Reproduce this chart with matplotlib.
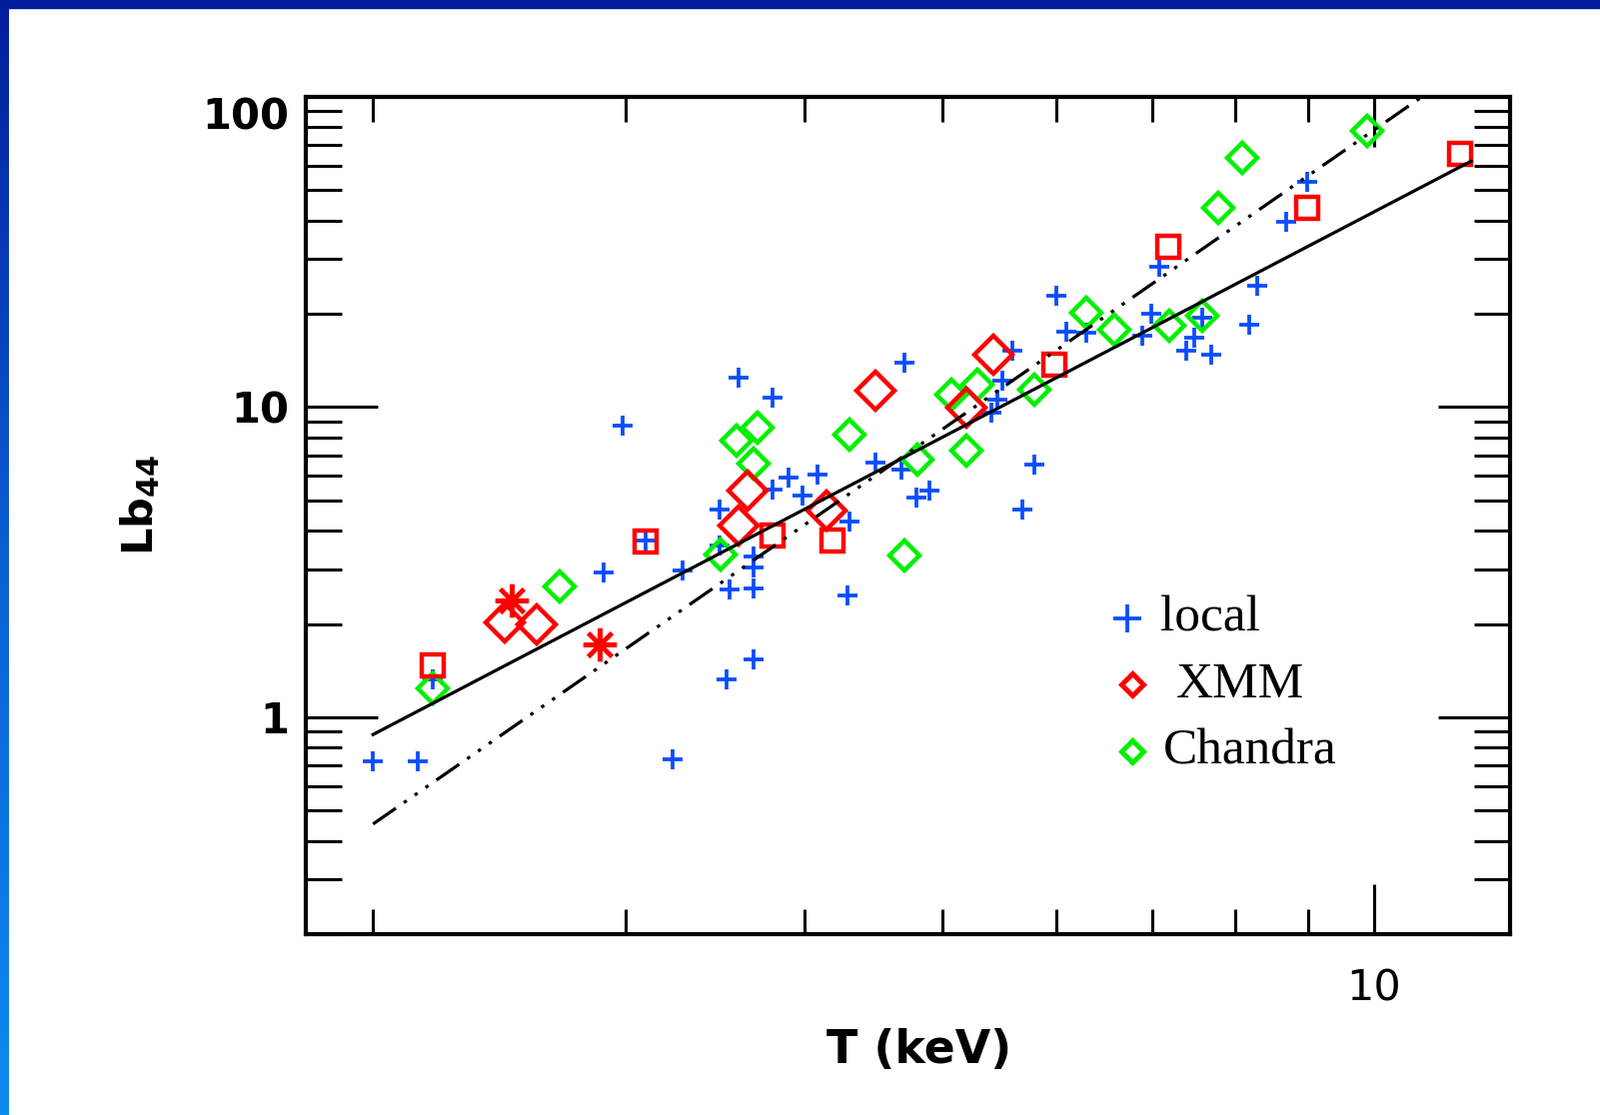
import numpy as np
import matplotlib
matplotlib.use('Agg')
import matplotlib.pyplot as plt
from matplotlib.ticker import FixedLocator, NullFormatter, FuncFormatter

# ---- data (T in keV, Lb44) ----
local_T = [2.00, 2.15, 2.20, 2.90, 2.99, 3.10, 3.24, 3.29, 3.49, 3.49,
           3.55, 3.60, 3.53, 3.69, 3.69, 3.69, 3.69, 3.80, 3.80, 3.90,
           3.99, 4.09, 4.30, 4.29, 4.49, 4.68, 4.70, 4.79, 4.89, 5.41,
           5.46, 5.50, 5.59, 5.68, 5.79, 6.00, 6.10, 6.30, 6.89, 6.99,
           7.08, 7.40, 7.49, 7.59, 7.70, 8.19, 8.29, 8.69, 8.98]
local_L = [0.72, 0.72, 1.33, 2.93, 8.72, 3.72, 0.73, 2.97, 4.68, 3.58,
           2.58, 12.4, 1.33, 3.30, 3.04, 2.60, 1.54, 10.7, 5.42, 5.93,
           5.19, 6.06, 4.28, 2.47, 6.63, 6.29, 13.9, 5.11, 5.38, 9.60,
           10.6, 12.2, 15.2, 4.68, 6.53, 22.9, 17.5, 17.4, 17.0, 20.0,
           28.3, 15.2, 16.7, 19.4, 14.8, 18.4, 24.6, 39.6, 53.2]

xmm_sq_T = [2.20, 3.10, 3.80, 4.19, 5.98, 7.19, 8.98, 11.49]
xmm_sq_L = [1.47, 3.70, 3.86, 3.72, 13.7, 32.9, 43.9, 65.5]

xmm_dia_T = [2.47, 2.60, 3.60, 3.65, 4.15, 4.49, 5.19, 5.42]
xmm_dia_L = [2.02, 1.99, 4.15, 5.38, 4.64, 11.3, 9.96, 14.8]

xmm_ast_T = [2.50, 2.88]
xmm_ast_L = [2.38, 1.72]

chandra_T = [2.20, 2.70, 3.50, 3.59, 3.71, 3.69, 4.30, 4.70, 4.80, 5.07,
             5.29, 5.19, 5.79, 6.30, 6.59, 7.20, 7.59, 7.79, 8.09, 9.89]
chandra_L = [1.24, 2.64, 3.35, 7.80, 8.59, 6.58, 8.15, 3.32, 6.78, 11.0,
             11.8, 7.24, 11.4, 20.2, 17.8, 18.3, 19.7, 43.9, 63.6, 77.7]

# power-law fits  L = norm * T**slope
fit_solid = {'norm': 0.1656, 'slope': 2.41, 'tmin': 2.0, 'tmax': 11.7}
fit_dashdot = {'norm': 0.0493, 'slope': 3.20, 'tmin': 2.0, 'tmax': 11.0}

x_major = [10]
x_minor = [2, 3, 4, 5, 6, 7, 8, 9]
y_major = [1, 10, 100]

plt.rcParams['lines.scale_dashes'] = False

fig = plt.figure(figsize=(16.01, 11.16), dpi=100)
fig.patch.set_facecolor('white')

# slide border: dark top band, blue gradient on the left
fig.patches.append(plt.Rectangle((0, 1 - 8 / 1116), 1, 8 / 1116, transform=fig.transFigure,
                                 color='#021d9c', zorder=0))
bax = fig.add_axes([0, 0, 9 / 1601, 1])
grad = np.linspace(0, 1, 256).reshape(-1, 1)
cm = matplotlib.colors.LinearSegmentedColormap.from_list('bord', ['#021d9c', '#0b5fd4', '#0d8cf0'])
bax.imshow(grad, aspect='auto', cmap=cm, extent=[0, 1, 0, 1], origin='upper')
bax.set_axis_off()

ax = fig.add_axes([306 / 1601, 1 - 935 / 1116, 1205 / 1601, 838 / 1116])
ax.set_xscale('log')
ax.set_yscale('log')
ax.set_xlim(1.795, 12.45)
ax.set_ylim(0.2, 100)

blue = '#0a4cff'
red = '#ff0000'
green = '#00f000'

ax.plot(local_T, local_L, ls='none', marker='+', ms=15, mew=2.7, color=blue, zorder=3)
ax.plot(chandra_T, chandra_L, ls='none', marker='D', ms=15.5, mew=3.2, mfc='none', mec=green, zorder=3)
ax.plot(xmm_sq_T, xmm_sq_L, ls='none', marker='s', ms=15.5, mew=3.2, mfc='none', mec=red, zorder=3)
ax.plot(xmm_dia_T, xmm_dia_L, ls='none', marker='D', ms=19, mew=3.2, mfc='none', mec=red, zorder=3)
ax.plot(xmm_ast_T, xmm_ast_L, ls='none', marker=(8, 2, 0), ms=24, mew=3.0, color=red, zorder=3)

for fit, style in [(fit_solid, '-'), (fit_dashdot, (0, (20, 7, 2.5, 7, 2.5, 7, 2.5, 7)))]:
    t = np.geomspace(fit['tmin'], fit['tmax'], 100)
    ax.plot(t, fit['norm'] * t ** fit['slope'], color='black', lw=2.3, ls=style, zorder=4)

# axes frame and ticks (IDL style, inward on all sides)
for s in ax.spines.values():
    s.set_linewidth(3)
ax.xaxis.set_major_locator(FixedLocator(x_major))
ax.xaxis.set_minor_locator(FixedLocator(x_minor))
ax.xaxis.set_minor_formatter(NullFormatter())
ax.xaxis.set_major_formatter(FuncFormatter(lambda v, p: '%g' % v))
ax.yaxis.set_major_locator(FixedLocator(y_major))
ax.yaxis.set_minor_locator(FixedLocator([m * d for d in (0.1, 1, 10) for m in range(2, 10)]))
ax.yaxis.set_minor_formatter(NullFormatter())
ax.yaxis.set_major_formatter(FuncFormatter(lambda v, p: '%g' % v))

ax.tick_params(axis='both', which='both', direction='in', top=True, right=True, width=2.2,
               labelsize=31, colors='black')
ax.tick_params(axis='x', which='major', length=36, pad=24)
ax.tick_params(axis='x', which='minor', length=18)
ax.tick_params(axis='y', which='major', length=52, pad=12)
ax.tick_params(axis='y', which='minor', length=26)

# the top label "100" sits below its tick, inside the frame height
fig.canvas.draw()
for tk in ax.yaxis.get_major_ticks():
    tk.label1.set_fontweight('bold')
    tk.label1.set_fontsize(30)
ax.yaxis.get_major_ticks()[-1].label1.set_verticalalignment('top')

ax.text(-0.138, 0.513, r'$\mathbf{Lb_{44}}$', transform=ax.transAxes, rotation=90,
        ha='center', va='center', fontsize=31)
ax.text(0.5095, -0.1396, 'T (keV)', transform=ax.transAxes, ha='center', va='center',
        fontsize=33, fontweight='bold')

# hand-placed legend
serif = 'Liberation Serif'
ax.plot([0.682], [0.377], transform=ax.transAxes, marker='+', ms=20, mew=2.7, color=blue, clip_on=False)
ax.text(0.7095, 0.377, 'local', transform=ax.transAxes, family=serif, fontsize=37, va='center')
ax.plot([0.6863], [0.298], transform=ax.transAxes, marker='D', ms=11.5, mew=3.6, mfc='none',
        mec=red, clip_on=False)
ax.text(0.7228, 0.298, 'XMM', transform=ax.transAxes, family=serif, fontsize=37, va='center')
ax.plot([0.6863], [0.218], transform=ax.transAxes, marker='D', ms=11.5, mew=3.6, mfc='none',
        mec=green, clip_on=False)
ax.text(0.712, 0.218, 'Chandra', transform=ax.transAxes, family=serif, fontsize=37, va='center')

plt.savefig('out.png', dpi=100, facecolor='white')
